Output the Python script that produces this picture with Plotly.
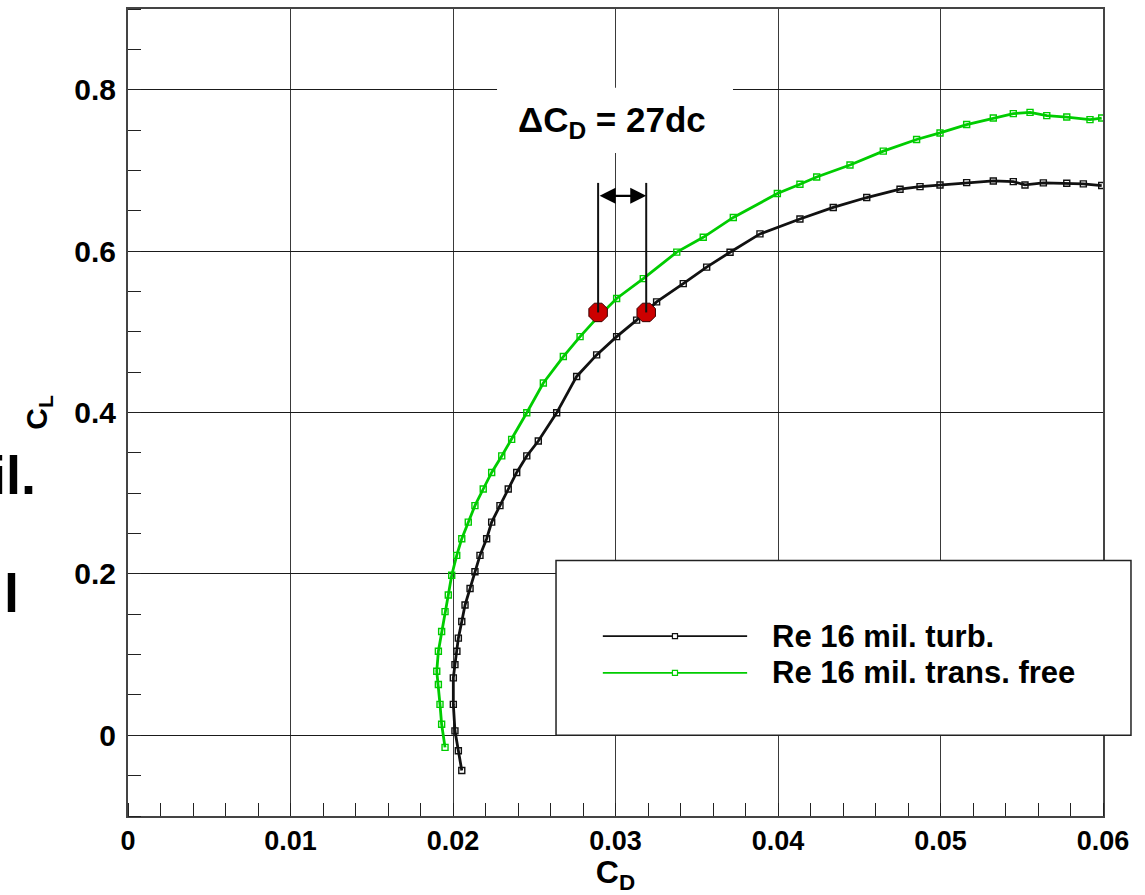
import plotly.graph_objects as go

# ---------------- data ----------------
series_names = ["Re 16 mil. turb.", "Re 16 mil. trans. free"]

turb_cd = [0.02054, 0.02033, 0.02012, 0.02002, 0.02002, 0.02012, 0.02024, 0.02033,
           0.02054, 0.02074, 0.02105, 0.02135, 0.02166, 0.02207, 0.02238, 0.02289,
           0.02340, 0.02392, 0.02454, 0.02525, 0.02638, 0.02761, 0.02884, 0.03007,
           0.03130, 0.03253, 0.03417, 0.03561, 0.03705, 0.03889, 0.04135, 0.04340,
           0.04546, 0.04751, 0.04874, 0.04997, 0.05161, 0.05325, 0.05448, 0.05520,
           0.05633, 0.05777, 0.05879, 0.05992]
turb_cl = [-0.0437, -0.0191, 0.0055, 0.0383, 0.0712, 0.0876, 0.1041, 0.1204,
           0.1410, 0.1615, 0.1820, 0.2026, 0.2230, 0.2436, 0.2642, 0.2846,
           0.3052, 0.3257, 0.3462, 0.3647, 0.3996, 0.4447, 0.4714, 0.4940,
           0.5145, 0.5371, 0.5597, 0.5802, 0.5986, 0.6213, 0.6398, 0.6541,
           0.6664, 0.6767, 0.6799, 0.6820, 0.6849, 0.6869, 0.6861, 0.6820,
           0.6845, 0.6841, 0.6833, 0.6812]

free_cd = [0.01951, 0.01930, 0.01920, 0.01910, 0.01900, 0.01910, 0.01930, 0.01951,
           0.01971, 0.01992, 0.02023, 0.02054, 0.02094, 0.02135, 0.02186, 0.02238,
           0.02300, 0.02361, 0.02454, 0.02556, 0.02679, 0.02782, 0.02884, 0.03007,
           0.03171, 0.03377, 0.03540, 0.03725, 0.03996, 0.04135, 0.04238, 0.04443,
           0.04648, 0.04853, 0.04997, 0.05161, 0.05325, 0.05448, 0.05551, 0.05654,
           0.05777, 0.05920, 0.05992]
free_cl = [-0.0150, 0.0137, 0.0383, 0.0629, 0.0794, 0.1041, 0.1287, 0.1533,
           0.1738, 0.1984, 0.2230, 0.2436, 0.2642, 0.2846, 0.3052, 0.3257,
           0.3462, 0.3667, 0.3996, 0.4366, 0.4693, 0.4940, 0.5166, 0.5413,
           0.5659, 0.5987, 0.6171, 0.6417, 0.6713, 0.6829, 0.6919, 0.7067,
           0.7239, 0.7383, 0.7464, 0.7568, 0.7649, 0.7703, 0.7719, 0.7679,
           0.7661, 0.7629, 0.7649]

dot_cd = [0.02893, 0.03189]
dot_cl = [0.524, 0.524]
delta_label = "ΔC<sub>D</sub> = 27dc"

x_tickvals = [0, 0.01, 0.02, 0.03, 0.04, 0.05, 0.06]
x_ticktext = ["0", "0.01", "0.02", "0.03", "0.04", "0.05", "0.06"]
y_tickvals = [0, 0.2, 0.4, 0.6, 0.8]
y_ticktext = ["0", "0.2", "0.4", "0.6", "0.8"]

colors = ["#111111", "#00cc00"]
FONT = "Liberation Sans, Arial, sans-serif"

fig = go.Figure()

for cd, cl, col, name in [(turb_cd, turb_cl, colors[0], series_names[0]),
                          (free_cd, free_cl, colors[1], series_names[1])]:
    fig.add_trace(go.Scatter(
        x=cd, y=cl, mode="lines+markers", name=name,
        line=dict(color=col, width=2.8),
        marker=dict(symbol="square-open", size=6, color=col, line=dict(width=1.4, color=col)),
        showlegend=False,
    ))

# ---- vertical guide lines from the dots, and the double arrow ----
arrow_top = 0.6845
arrow_y = 0.6685
for xv, yv in zip(dot_cd, dot_cl):
    fig.add_shape(type="line", xref="x", yref="y", x0=xv, x1=xv, y0=yv, y1=arrow_top,
                  line=dict(color="#111111", width=2), layer="above")

fig.add_annotation(x=dot_cd[1], y=arrow_y, ax=dot_cd[0], ay=arrow_y,
                   xref="x", yref="y", axref="x", ayref="y", text="",
                   showarrow=True, arrowhead=2, arrowside="end+start",
                   arrowsize=1.45, arrowwidth=2.2, arrowcolor="#000000",
                   standoff=0, startstandoff=0)

fig.add_trace(go.Scatter(
    x=dot_cd, y=dot_cl, mode="markers", showlegend=False,
    marker=dict(symbol="octagon", size=20, color="#cc0000", line=dict(color="#3a0000", width=1)),
))

# ---- white box behind the delta label ----
fig.add_shape(type="rect", xref="x", yref="y", x0=0.02271, x1=0.03723, y0=0.7215, y1=0.8025,
              fillcolor="white", line=dict(width=0), layer="above")
fig.add_annotation(x=0.0298, y=0.760, xref="x", yref="y", text=delta_label, showarrow=False,
                   xanchor="center", yanchor="middle",
                   font=dict(family=FONT, size=35, color="black", weight="bold"))

# ---- manual legend box ----
fig.add_shape(type="rect", xref="paper", yref="paper", x0=0.439, x1=1.0287, y0=0.1, y1=0.3165,
              fillcolor="white", line=dict(color="#222222", width=1.5), layer="above")
leg_y = [0.2229, 0.1773]
for yy, col, name in zip(leg_y, colors, series_names):
    fig.add_shape(type="line", xref="paper", yref="paper", x0=0.487, x1=0.635, y0=yy, y1=yy,
                  line=dict(color=col, width=1.8), layer="above")
    fig.add_shape(type="rect", xref="paper", yref="paper", x0=0.561 - 0.0026, x1=0.561 + 0.0026,
                  y0=yy - 0.0031, y1=yy + 0.0031, fillcolor="white",
                  line=dict(color=col, width=1.2), layer="above")
    fig.add_annotation(x=0.658, y=yy, xref="paper", yref="paper", text=name, showarrow=False,
                       xanchor="left", yanchor="middle",
                       font=dict(family=FONT, size=31, color="black", weight="bold"))

# ---- cropped slide text at the left edge ----
fig.add_annotation(x=-0.0925, y=0.423, xref="paper", yref="paper", text="il.", showarrow=False,
                   xanchor="right", yanchor="middle",
                   font=dict(family=FONT, size=54, color="black", weight="bold"))
fig.add_annotation(x=-0.129, y=0.276, xref="paper", yref="paper", text="l", showarrow=False,
                   xanchor="left", yanchor="middle",
                   font=dict(family=FONT, size=54, color="black", weight="bold"))

fig.update_layout(
    width=1145, height=895, autosize=False,
    margin=dict(l=128, r=42, t=7, b=76),
    paper_bgcolor="white", plot_bgcolor="white",
    showlegend=False,
    font=dict(family=FONT, color="black"),
)

fig.update_xaxes(
    range=[0, 0.06], tickmode="array", tickvals=x_tickvals, ticktext=x_ticktext,
    showgrid=True, gridcolor="#3a3a3a", gridwidth=1.4, zeroline=False,
    showline=True, linecolor="#444444", linewidth=2, mirror=True,
    ticks="", ticklabelstandoff=0,
    tickfont=dict(family=FONT, size=27, color="black", weight="bold"),
    minor=dict(tickmode="linear", tick0=0, dtick=0.002, ticks="inside", ticklen=13,
               tickwidth=1.3, tickcolor="#222222", showgrid=False),
    title=dict(text="C<sub>D</sub>", standoff=9,
               font=dict(family=FONT, size=32, color="black", weight="bold")),
)
fig.update_yaxes(
    range=[-0.1, 0.9], tickmode="array", tickvals=y_tickvals, ticktext=y_ticktext,
    showgrid=True, gridcolor="#1a1a1a", gridwidth=1.2, zeroline=False,
    showline=True, linecolor="#444444", linewidth=2, mirror=True,
    ticks="", ticklabelstandoff=4,
    tickfont=dict(family=FONT, size=30, color="black", weight="bold"),
    minor=dict(tickmode="linear", tick0=0, dtick=0.05, ticks="inside", ticklen=13,
               tickwidth=1.3, tickcolor="#222222", showgrid=False),
    title=dict(text="C<sub>L</sub>", standoff=18,
               font=dict(family=FONT, size=30, color="black", weight="bold")),
)

fig.write_html("out.html")
